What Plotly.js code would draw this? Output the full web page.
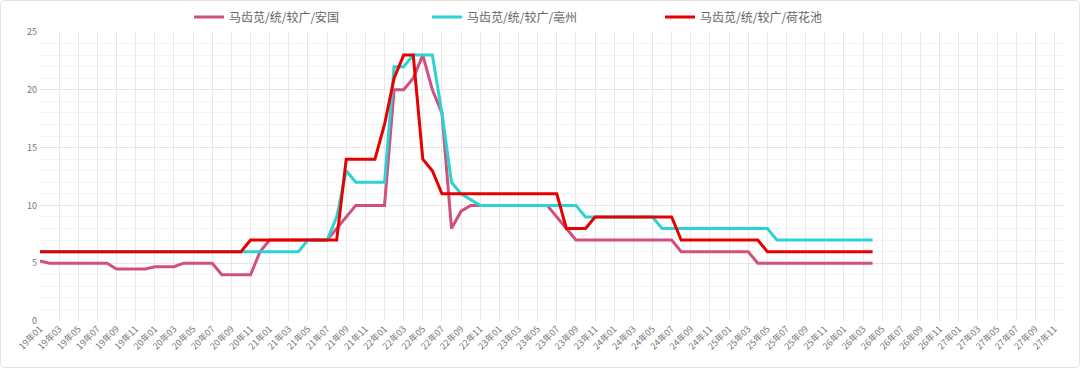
<!DOCTYPE html>
<html>
<head>
<meta charset="utf-8">
<script src="https://cdn.plot.ly/plotly-3.0.1.min.js"></script>
<style>
html,body{margin:0;padding:0;background:#fff;}
#wrap{position:relative;width:1080px;height:374px;overflow:hidden;}
#chart{position:absolute;left:0;top:0;width:1080px;height:374px;}
#card{position:absolute;left:0;top:0;width:1080px;height:368px;box-sizing:border-box;border:1px solid #e3e3e3;border-radius:4px;pointer-events:none;}
</style>
</head>
<body>
<div id="wrap"><div id="chart"></div><div id="card"></div></div>
<script>
// Month categories on the x axis
const months = [
 '19年01','19年02','19年03','19年04','19年05','19年06','19年07','19年08','19年09','19年10','19年11','19年12',
 '20年01','20年02','20年03','20年04','20年05','20年06','20年07','20年08','20年09','20年10','20年11','20年12',
 '21年01','21年02','21年03','21年04','21年05','21年06','21年07','21年08','21年09','21年10','21年11','21年12',
 '22年01','22年02','22年03','22年04','22年05','22年06','22年07','22年08','22年09','22年10','22年11','22年12',
 '23年01','23年02','23年03','23年04','23年05','23年06','23年07','23年08','23年09','23年10','23年11','23年12',
 '24年01','24年02','24年03','24年04','24年05','24年06','24年07','24年08','24年09','24年10','24年11','24年12',
 '25年01','25年02','25年03','25年04','25年05','25年06','25年07','25年08','25年09','25年10','25年11','25年12',
 '26年01','26年02','26年03','26年04','26年05','26年06','26年07','26年08','26年09','26年10','26年11','26年12',
 '27年01','27年02','27年03','27年04','27年05','27年06','27年07','27年08','27年09','27年10','27年11','27年12'
];
// Tick labels shown (every other month)
const tickLabels = [
 '19年01','19年03','19年05','19年07','19年09','19年11',
 '20年01','20年03','20年05','20年07','20年09','20年11',
 '21年01','21年03','21年05','21年07','21年09','21年11',
 '22年01','22年03','22年05','22年07','22年09','22年11',
 '23年01','23年03','23年05','23年07','23年09','23年11',
 '24年01','24年03','24年05','24年07','24年09','24年11',
 '25年01','25年03','25年05','25年07','25年09','25年11',
 '26年01','26年03','26年05','26年07','26年09','26年11',
 '27年01','27年03','27年05','27年07','27年09','27年11'
];
const seriesNames = ['马齿苋/统/较广/安国','马齿苋/统/较广/亳州','马齿苋/统/较广/荷花池'];
// 安国 (19年01 .. 26年04)
const anguo = [
 5.2,5,5,5,5,5,5,5,4.5,4.5,4.5,4.5,
 4.7,4.7,4.7,5,5,5,5,4,4,4,4,6,
 7,7,7,7,7,7,7,8,9,10,10,10,
 10,20,20,21,23,20,18,8,9.5,10,10,10,
 10,10,10,10,10,10,9,8,7,7,7,7,
 7,7,7,7,7,7,7,6,6,6,6,6,
 6,6,6,5,5,5,5,5,5,5,5,5,
 5,5,5,5
];
// 亳州
const bozhou = [
 6,6,6,6,6,6,6,6,6,6,6,6,
 6,6,6,6,6,6,6,6,6,6,6,6,
 6,6,6,6,7,7,7,9,13,12,12,12,
 12,22,22,23,23,23,18,12,11,10.5,10,10,
 10,10,10,10,10,10,10,10,10,9,9,9,
 9,9,9,9,9,8,8,8,8,8,8,8,
 8,8,8,8,8,7,7,7,7,7,7,7,
 7,7,7,7
];
// 荷花池
const hehuachi = [
 6,6,6,6,6,6,6,6,6,6,6,6,
 6,6,6,6,6,6,6,6,6,6,7,7,
 7,7,7,7,7,7,7,7,14,14,14,14,
 17,21,23,23,14,13,11,11,11,11,11,11,
 11,11,11,11,11,11,11,8,8,8,9,9,
 9,9,9,9,9,9,9,7,7,7,7,7,
 7,7,7,7,6,6,6,6,6,6,6,6,
 6,6,6,6
];
const colors = ['#d1507d','#2dd3d3','#e60000'];
const values = [anguo, bozhou, hehuachi];
const legendIds = ['legend','legend2','legend3'];

const traces = values.map((v, i) => ({
  type: 'scatter', mode: 'lines',
  name: seriesNames[i],
  x: months.slice(0, v.length),
  y: v,
  line: {color: colors[i], width: 3},
  legend: legendIds[i],
  hoverinfo: 'x+y+name'
}));

const legendBase = {
  orientation: 'h', xref: 'container', yref: 'container',
  y: 1 - 17/374, yanchor: 'middle', xanchor: 'left',
  font: {family: '"Noto Sans CJK SC", "Noto Sans", sans-serif', size: 12, color: '#666'},
  bgcolor: 'rgba(0,0,0,0)', borderwidth: 0
};

const layout = {
  width: 1080, height: 374,
  margin: {l: 40, r: 16, t: 32, b: 53},
  paper_bgcolor: '#ffffff', plot_bgcolor: '#ffffff',
  font: {family: '"Noto Sans CJK SC", "Noto Sans", sans-serif', color: '#888'},
  showlegend: true,
  legend: Object.assign({}, legendBase, {x: 189/1080}),
  legend2: Object.assign({}, legendBase, {x: 427/1080}),
  legend3: Object.assign({}, legendBase, {x: 660/1080}),
  xaxis: {
    type: 'category',
    categoryorder: 'array', categoryarray: months,
    range: [0, months.length - 1],
    tickmode: 'array', tickvals: tickLabels, ticktext: tickLabels,
    tickangle: -45,
    tickfont: {size: 9, color: '#777'},
    showgrid: true, gridcolor: '#e9e9e9', gridwidth: 1,
    showline: false, zeroline: false, ticks: '',
    fixedrange: true
  },
  yaxis: {
    range: [0, 25],
    tickmode: 'linear', tick0: 0, dtick: 5,
    tickfont: {size: 9, color: '#777'},
    showgrid: true, gridcolor: '#e6e6e6', gridwidth: 1,
    minor: {dtick: 1, showgrid: true, gridcolor: '#f4f4f4', gridwidth: 1},
    zeroline: false, showline: false, ticks: '',
    ticklabelstandoff: 2,
    fixedrange: true
  }
};

Plotly.newPlot('chart', traces, layout, {displayModeBar: false, staticPlot: false, responsive: false});
</script>
</body>
</html>
